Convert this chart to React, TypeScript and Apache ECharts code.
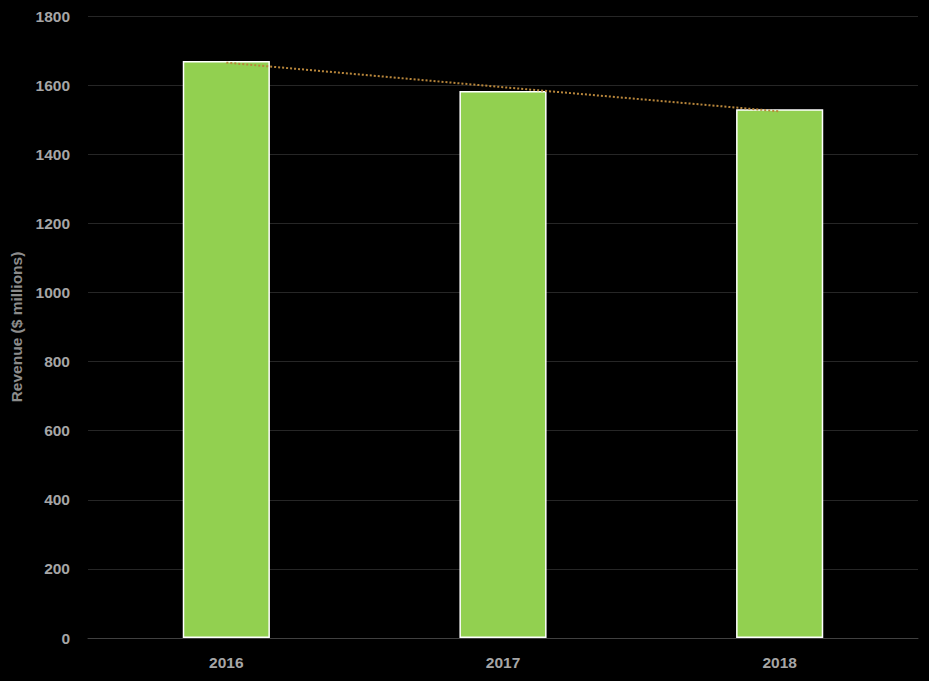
import React, { useEffect, useRef } from "react";
import * as echarts from "echarts";

const categories = ["2016", "2017", "2018"];
const revenue = [1670, 1583, 1530];
const trend = [1665, 1594, 1524];
const yTicks = { min: 0, max: 1800, interval: 200 };

export default function App() {
  const ref = useRef<HTMLDivElement>(null);
  useEffect(() => {
    if (!ref.current) return;
    const chart = echarts.init(ref.current, undefined, { renderer: "svg" });
    const font = "'Liberation Sans', Arial, sans-serif";
    chart.setOption({
      animation: false,
      backgroundColor: "#000000",
      grid: { left: 88, right: 11, top: 16, bottom: 43, containLabel: false },
      xAxis: {
        type: "category",
        data: categories,
        axisLine: { show: true, lineStyle: { color: "#404040", width: 1 } },
        axisTick: { show: false },
        axisLabel: {
          color: "#a6a6a6",
          fontFamily: font,
          fontWeight: "bold",
          fontSize: 15.5,
          margin: 16,
        },
      },
      yAxis: {
        type: "value",
        min: yTicks.min,
        max: yTicks.max,
        interval: yTicks.interval,
        name: "Revenue ($ millions)",
        nameLocation: "middle",
        nameGap: 61,
        nameRotate: 90,
        nameTextStyle: {
          color: "#8c8c8c",
          fontFamily: font,
          fontWeight: "bold",
          fontSize: 15.5,
        },
        axisLine: { show: false },
        axisTick: { show: false },
        splitLine: { lineStyle: { color: "#262626", width: 1 } },
        axisLabel: {
          color: "#a6a6a6",
          fontFamily: font,
          fontWeight: "bold",
          fontSize: 15.5,
          margin: 18,
          formatter: (v: number) => String(v),
        },
      },
      series: [
        {
          type: "bar",
          data: revenue,
          barWidth: "31.5%",
          itemStyle: { color: "#92d050", borderColor: "#ffffff", borderWidth: 1.5 },
        },
        {
          type: "line",
          data: trend,
          symbol: "none",
          lineStyle: { color: "#b8863b", width: 2, type: [2, 2] },
          z: 5,
        },
      ],
    });
    return () => chart.dispose();
  }, []);
  return <div ref={ref} style={{ width: 929, height: 681, position: "absolute", left: 0, top: 0 }} />;
}
